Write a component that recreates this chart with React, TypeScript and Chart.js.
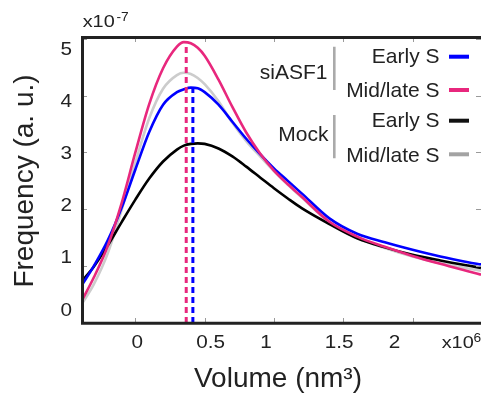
import React, { useEffect, useRef } from "react";
import { Chart, registerables } from "chart.js";

Chart.register(...registerables);

// ---- data (volume in 10^6 nm^3, frequency in 10^-7 a.u.) ----
const VOLUME = [
  -0.385, -0.3, -0.2, -0.1, 0, 0.1, 0.2, 0.3, 0.35, 0.4, 0.45, 0.5, 0.6, 0.7, 0.8, 0.9,
  1.0, 1.1, 1.2, 1.4, 1.6, 1.8, 2.0, 2.2, 2.4, 2.494,
];
const SIASF1_EARLY = [
  0.67, 1.0, 1.45, 2.02, 2.7, 3.36, 3.84, 4.06, 4.11, 4.14, 4.13, 4.06, 3.84, 3.54, 3.24, 2.97,
  2.72, 2.5, 2.28, 1.84, 1.57, 1.42, 1.29, 1.17, 1.07, 1.03,
];
const SIASF1_MIDLATE = [
  0.4, 0.8, 1.35, 2.1, 3.0, 3.85, 4.48, 4.86, 4.94, 4.92, 4.84, 4.7, 4.28, 3.8, 3.35, 2.98,
  2.68, 2.44, 2.22, 1.78, 1.52, 1.34, 1.18, 1.04, 0.91, 0.85,
];
const MOCK_EARLY = [
  0.74, 0.99, 1.36, 1.77, 2.17, 2.54, 2.84, 3.05, 3.12, 3.15, 3.16, 3.15, 3.07, 2.93, 2.75, 2.56,
  2.37, 2.19, 2.02, 1.74, 1.49, 1.33, 1.2, 1.1, 1.01, 0.97,
];
const MOCK_MIDLATE = [
  0.34, 0.68, 1.22, 1.98, 2.82, 3.6, 4.12, 4.36, 4.4, 4.38, 4.31, 4.2, 3.9, 3.52, 3.2, 2.93,
  2.67, 2.43, 2.21, 1.77, 1.5, 1.32, 1.17, 1.05, 0.96, 0.92,
];
// modes (dashed markers)
const MODE_SIASF1_MIDLATE = [0.367, 4.94];
const MODE_SIASF1_EARLY = [0.415, 4.14];

const X_TICKS = [0, 0.5, 1, 1.5, 2];
const X_TICK_LABELS = ["0", "0.5", "1", "1.5", "2"];
const Y_TICKS = [0, 1, 2, 3, 4, 5];
const Y_TICK_LABELS = ["0", "1", "2", "3", "4", "5"];

const GROUPS = ["siASF1", "Mock"];
const SERIES_LABELS = ["Early S", "Mid/late S", "Early S", "Mid/late S"];

// ---- styles ----
const FONT = '"Liberation Sans", Arial, Helvetica, sans-serif';
const TEXT = "#222222";
const BLUE = "#0000ff";
const PINK = "#e8277d";
const BLACK = "#000000";
const LIGHT = "#cccccc";
const LEGEND_COLORS = [BLUE, PINK, "#111111", "#a3a3a3"];
const X_LABEL_NUDGE = [2, 6, -8, -4, -18];
const TICK_STRETCH = 1.15;

const toPts = (ys: number[]) => ys.map((y, i) => ({ x: VOLUME[i], y }));
const vline = (m: number[]) => [
  { x: m[0], y: 0 },
  { x: m[0], y: m[1] },
];

function stretchedText(
  ctx: CanvasRenderingContext2D,
  text: string,
  x: number,
  y: number,
  sx: number
) {
  ctx.save();
  ctx.translate(x, y);
  ctx.scale(sx, 1);
  ctx.fillText(text, 0, 0);
  ctx.restore();
}

const decor = {
  id: "decor",
  afterDatasetsDraw(chart: any) {
    const ctx = chart.ctx as CanvasRenderingContext2D;
    const { left, right, top, bottom } = chart.chartArea;
    const xs = chart.scales.x;
    const ys = chart.scales.y;
    const yl = chart.scales.yl;
    ctx.save();

    // inward tick marks
    ctx.strokeStyle = "#9a9a9a";
    ctx.lineWidth = 1;
    ctx.beginPath();
    X_TICKS.forEach((v) => {
      const px = Math.round(xs.getPixelForValue(v)) + 0.5;
      ctx.moveTo(px, bottom);
      ctx.lineTo(px, bottom - 5);
      ctx.moveTo(px, top);
      ctx.lineTo(px, top + 5);
    });
    Y_TICKS.forEach((v) => {
      const py = Math.round(ys.getPixelForValue(v)) + 0.5;
      ctx.moveTo(left, py);
      ctx.lineTo(left + 5, py);
      ctx.moveTo(right, py);
      ctx.lineTo(right - 5, py);
    });
    ctx.stroke();

    // frame (left, top, bottom)
    ctx.strokeStyle = "#222222";
    ctx.lineWidth = 3;
    ctx.lineCap = "butt";
    ctx.beginPath();
    ctx.moveTo(right + 3, top + 0.5);
    ctx.lineTo(left + 0.5, top + 0.5);
    ctx.lineTo(left + 0.5, bottom + 0.3);
    ctx.lineTo(right + 3, bottom + 0.3);
    ctx.stroke();

    // tick labels
    ctx.fillStyle = TEXT;
    ctx.font = `18px ${FONT}`;
    ctx.textBaseline = "alphabetic";
    ctx.textAlign = "right";
    Y_TICKS.forEach((v, i) => {
      stretchedText(ctx, Y_TICK_LABELS[i], 72, yl.getPixelForValue(v) + 6.4, TICK_STRETCH);
    });
    ctx.textAlign = "center";
    X_TICKS.forEach((v, i) => {
      stretchedText(
        ctx,
        X_TICK_LABELS[i],
        xs.getPixelForValue(v) + X_LABEL_NUDGE[i],
        347.7,
        TICK_STRETCH
      );
    });

    // exponents
    ctx.textAlign = "left";
    ctx.font = `17px ${FONT}`;
    const baseW = ctx.measureText("x10").width;
    const sx = 32 / baseW;
    stretchedText(ctx, "x10", 82.7, 26.7, sx);
    ctx.font = `12.5px ${FONT}`;
    stretchedText(ctx, "-7", 116.5, 20.7, 1.1);
    ctx.font = `17px ${FONT}`;
    stretchedText(ctx, "x10", 441.7, 347.5, sx);
    ctx.font = `12.5px ${FONT}`;
    stretchedText(ctx, "6", 473.5, 342, 1.1);

    // axis titles
    ctx.font = `28px ${FONT}`;
    ctx.textAlign = "center";
    ctx.fillText("Volume (nm\u00b3)", 278, 386.7);
    ctx.save();
    ctx.translate(33, 181);
    ctx.rotate(-Math.PI / 2);
    ctx.fillText("Frequency (a. u.)", 0, 0);
    ctx.restore();

    // legend
    ctx.font = `21px ${FONT}`;
    ctx.textAlign = "right";
    ctx.fillText(GROUPS[0], 327.5, 79);
    ctx.fillText(GROUPS[1], 328.5, 141);
    const baselines = [62.7, 96.7, 126.7, 161.7];
    const lineYs = [56.7, 90, 120.7, 154.3];
    SERIES_LABELS.forEach((s, i) => {
      ctx.fillStyle = TEXT;
      ctx.fillText(s, 439.5, baselines[i]);
      ctx.strokeStyle = LEGEND_COLORS[i];
      ctx.lineWidth = 4;
      ctx.beginPath();
      ctx.moveTo(449, lineYs[i]);
      ctx.lineTo(469, lineYs[i]);
      ctx.stroke();
    });
    ctx.strokeStyle = "#aaaaaa";
    ctx.lineWidth = 2.6;
    ctx.beginPath();
    ctx.moveTo(334.3, 46.7);
    ctx.lineTo(334.3, 90);
    ctx.moveTo(334.3, 115);
    ctx.lineTo(334.3, 158.3);
    ctx.stroke();

    ctx.restore();
  },
};

export default function App() {
  const ref = useRef<HTMLCanvasElement | null>(null);
  useEffect(() => {
    if (!ref.current) return;
    const curve = (data: any, color: string, order: number) => ({
      data,
      borderColor: color,
      backgroundColor: color,
      borderWidth: 2.6,
      pointRadius: 0,
      fill: false,
      cubicInterpolationMode: "monotone" as const,
      order,
    });
    const chart = new Chart(ref.current, {
      type: "line",
      data: {
        datasets: [
          curve(toPts(MOCK_MIDLATE), LIGHT, 5),
          curve(toPts(MOCK_EARLY), BLACK, 4),
          curve(toPts(SIASF1_EARLY), BLUE, 3),
          curve(toPts(SIASF1_MIDLATE), PINK, 2),
          {
            data: vline(MODE_SIASF1_EARLY),
            borderColor: BLUE,
            borderWidth: 3,
            borderDash: [6, 4],
            pointRadius: 0,
            fill: false,
            order: 1,
          },
          {
            data: vline(MODE_SIASF1_MIDLATE),
            borderColor: PINK,
            borderWidth: 3,
            borderDash: [6, 4],
            pointRadius: 0,
            fill: false,
            order: 0,
          },
        ],
      },
      options: {
        responsive: false,
        animation: false,
        parsing: false as any,
        layout: { padding: { left: 82, right: 0, top: 37, bottom: 73 } },
        plugins: { legend: { display: false }, tooltip: { enabled: false } },
        scales: {
          x: { type: "linear", min: -0.385, max: 2.494, display: false },
          y: { type: "linear", min: 0, max: 5.03, display: false },
          yl: { type: "linear", axis: "y", min: -0.2625, max: 5.216, display: false },
        },
      },
      plugins: [decor],
    });
    return () => chart.destroy();
  }, []);
  return (
    <div style={{ position: "absolute", left: 0, top: 0, width: 481, height: 396, background: "#fff" }}>
      <canvas ref={ref} width={481} height={396} style={{ display: "block" }} />
    </div>
  );
}
